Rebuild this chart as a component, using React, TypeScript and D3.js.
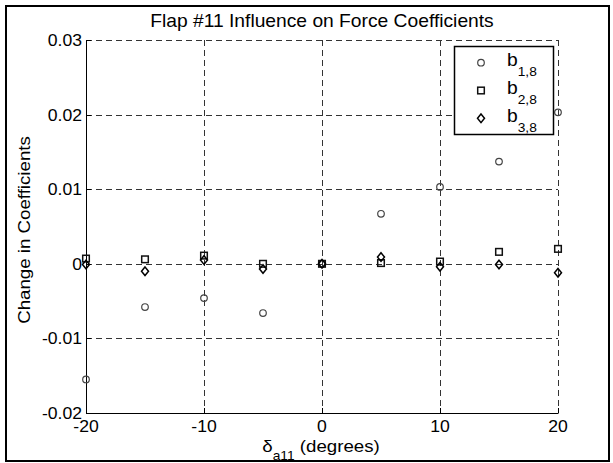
import React, { useEffect, useRef } from 'react';
import * as d3 from 'd3';

const deflection = [-20, -15, -10, -5, 0, 5, 10, 15, 20];
const b18 = [-0.0155, -0.0058, -0.0046, -0.0066, 0, 0.0067, 0.0103, 0.0137, 0.0203];
const b28 = [0.0007, 0.0006, 0.0011, 0.0, 0, 0.0001, 0.0003, 0.0016, 0.002];
const b38 = [-0.0001, -0.001, 0.0005, -0.0007, 0, 0.0009, -0.0004, -0.0001, -0.0012];

const xTicks = [-20, -10, 0, 10, 20];
const yTicks = [-0.02, -0.01, 0, 0.01, 0.02, 0.03];
const yTickLabels = ['-0.02', '-0.01', '0', '0.01', '0.02', '0.03'];
const seriesNames = ['1,8', '2,8', '3,8'];

const FONT = '"Liberation Sans", Arial, Helvetica, sans-serif';
const STRETCH = 1.1;

const App = () => {
  const svgRef = useRef<SVGSVGElement | null>(null);

  useEffect(() => {
    const svg = d3.select(svgRef.current).attr('width', 613).attr('height', 463);
    svg.selectAll('*').remove();

    const left = 86, right = 558, top = 40, bottom = 413;
    const x = d3.scaleLinear().domain([-20, 20]).range([left, right]);
    const y = d3.scaleLinear().domain([-0.02, 0.03]).range([bottom, top]);

    // white background + figure frame
    svg.append('rect').attr('width', 613).attr('height', 463).attr('fill', 'white');
    svg.append('rect')
      .attr('x', 6).attr('y', 6).attr('width', 603).attr('height', 455)
      .attr('fill', 'none').attr('stroke', 'black').attr('stroke-width', 2);

    const label = (tx, ty, str, size, anchor, rot = 0) =>
      svg.append('text')
        .attr('transform', `translate(${tx},${ty}) rotate(${rot}) scale(${STRETCH},1)`)
        .attr('text-anchor', anchor)
        .attr('font-family', FONT)
        .attr('font-size', size)
        .attr('fill', 'black')
        .text(str);

    // grid
    const grid = svg.append('g').attr('stroke', '#333').attr('stroke-width', 1)
      .attr('stroke-dasharray', '6,4').attr('fill', 'none');
    xTicks.forEach(t => {
      const px = Math.round(x(t)) + 0.5;
      grid.append('line').attr('x1', px).attr('x2', px).attr('y1', top).attr('y2', bottom);
    });
    yTicks.forEach(t => {
      const py = Math.round(y(t)) + 0.5;
      grid.append('line').attr('x1', left).attr('x2', right).attr('y1', py).attr('y2', py);
    });

    // axes (left + bottom)
    const ax = svg.append('g').attr('stroke', 'black').attr('stroke-width', 1);
    ax.append('line').attr('x1', left + 0.5).attr('x2', left + 0.5).attr('y1', top).attr('y2', bottom + 0.5);
    ax.append('line').attr('x1', left).attr('x2', right + 0.5).attr('y1', bottom + 0.5).attr('y2', bottom + 0.5);
    xTicks.forEach(t => {
      const px = Math.round(x(t)) + 0.5;
      ax.append('line').attr('x1', px).attr('x2', px).attr('y1', bottom).attr('y2', bottom - 5);
    });
    yTicks.forEach(t => {
      const py = Math.round(y(t)) + 0.5;
      ax.append('line').attr('x1', left).attr('x2', left + 5).attr('y1', py).attr('y2', py);
    });

    xTicks.forEach(t => label(x(t), 432, String(t), 16, 'middle'));
    yTicks.forEach((t, i) => label(82, y(t) + 6, yTickLabels[i], 16, 'end'));

    // markers
    const circle = (g, cx, cy) => g.append('circle')
      .attr('cx', cx).attr('cy', cy).attr('r', 3.3)
      .attr('fill', 'none').attr('stroke', '#444').attr('stroke-width', 1.2);
    const square = (g, cx, cy) => g.append('rect')
      .attr('x', cx - 3.3).attr('y', cy - 3.3).attr('width', 6.6).attr('height', 6.6)
      .attr('fill', 'none').attr('stroke', '#111').attr('stroke-width', 1.5);
    const diamond = (g, cx, cy) => g.append('path')
      .attr('d', `M${cx},${cy - 4.3}L${cx + 3.5},${cy}L${cx},${cy + 4.3}L${cx - 3.5},${cy}Z`)
      .attr('fill', 'none').attr('stroke', '#000').attr('stroke-width', 1.5);
    const shapes = [circle, square, diamond];

    const marks = svg.append('g');
    [b18, b28, b38].forEach((vals, s) => {
      vals.forEach((v, i) => shapes[s](marks, x(deflection[i]), y(v)));
    });

    // legend
    const lg = svg.append('g');
    lg.append('rect')
      .attr('x', 454.5).attr('y', 46.5).attr('width', 99).attr('height', 88)
      .attr('fill', 'white').attr('stroke', 'black').attr('stroke-width', 1.5);
    seriesNames.forEach((name, i) => {
      const cy = 62.7 + i * 27.8;
      shapes[i](lg, 481, cy);
      const t = lg.append('text')
        .attr('transform', `translate(507,${cy + 3.5}) scale(${STRETCH},1)`)
        .attr('font-family', FONT).attr('font-size', 17.5).attr('fill', 'black');
      t.append('tspan').text('b');
      t.append('tspan').attr('font-size', 12.5).attr('dy', 9.7).text(name);
    });

    // title and axis labels
    label(322, 26.5, 'Flap #11 Influence on Force Coefficients', 17.5, 'middle');
    label(30, 230, 'Change in Coefficients', 17, 'middle', -90);

    const xl = svg.append('text')
      .attr('transform', `translate(321,451.5) scale(${STRETCH},1)`)
      .attr('text-anchor', 'middle')
      .attr('font-family', FONT).attr('font-size', 17).attr('fill', 'black');
    xl.append('tspan').text('δ');
    xl.append('tspan').attr('font-size', 12.5).attr('dy', 8).text('a11');
    xl.append('tspan').attr('dy', -8).text(' (degrees)');
  }, []);

  return (
    <div style={{ position: 'absolute', left: 0, top: 0 }}>
      <svg ref={svgRef} style={{ display: 'block' }}></svg>
    </div>
  );
};

export default App;
